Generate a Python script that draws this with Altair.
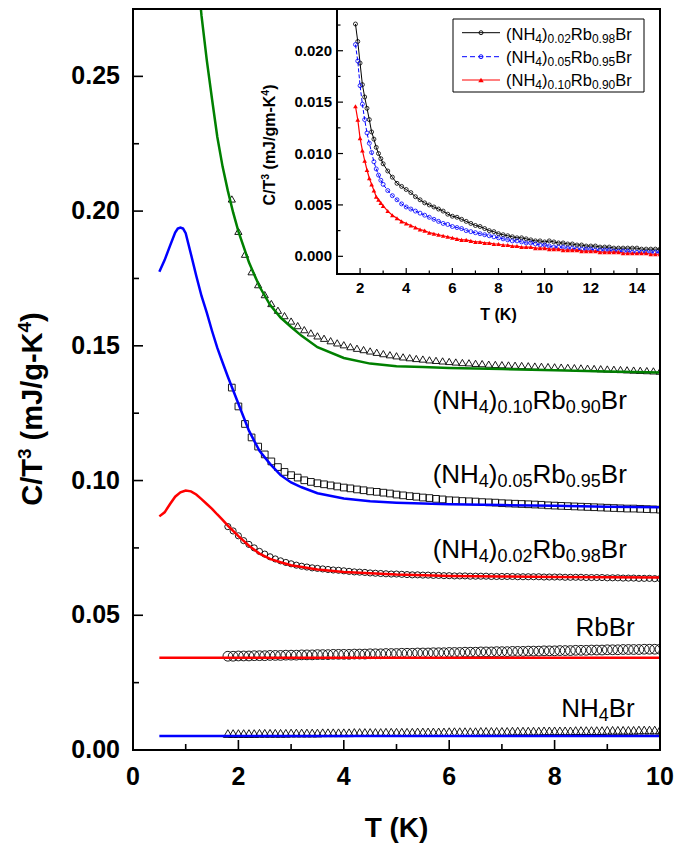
import altair as alt
import pandas as pd

# ---------------- data ----------------
# main panel: measured points
T_A = [1.8, 1.9, 2.0, 2.1, 2.2, 2.3, 2.4, 2.5, 2.6, 2.7,
       2.8, 2.9, 3.0, 3.1, 3.2, 3.3, 3.4, 3.5, 3.6, 3.7,
       3.8, 3.9, 4.0, 4.1, 4.2, 4.3, 4.4, 4.5, 4.6, 4.7,
       4.8, 4.9, 5.0, 5.1, 5.2, 5.3, 5.4, 5.5, 5.6, 5.7,
       5.8, 5.9, 6.0, 6.1, 6.2, 6.3, 6.4, 6.5, 6.6, 6.7,
       6.8, 6.9, 7.0, 7.1, 7.2, 7.3, 7.4, 7.5, 7.6, 7.7,
       7.8, 7.9, 8.0, 8.1, 8.2, 8.3, 8.4, 8.5, 8.6, 8.7,
       8.8, 8.9, 9.0, 9.1, 9.2, 9.3, 9.4, 9.5, 9.6, 9.7,
       9.8, 9.9, 10.0]

RBBR_PTS = [0.0348, 0.0348, 0.0349, 0.0349, 0.0349, 0.0350, 0.0350, 0.0350, 0.0351, 0.0351,
            0.0351, 0.0352, 0.0352, 0.0352, 0.0353, 0.0353, 0.0353, 0.0354, 0.0354, 0.0354,
            0.0355, 0.0355, 0.0355, 0.0355, 0.0356, 0.0356, 0.0356, 0.0357, 0.0357, 0.0357,
            0.0358, 0.0358, 0.0358, 0.0359, 0.0359, 0.0359, 0.0360, 0.0360, 0.0360, 0.0361,
            0.0361, 0.0361, 0.0362, 0.0362, 0.0362, 0.0363, 0.0363, 0.0363, 0.0364, 0.0364,
            0.0364, 0.0365, 0.0365, 0.0365, 0.0366, 0.0366, 0.0366, 0.0367, 0.0367, 0.0367,
            0.0368, 0.0368, 0.0368, 0.0369, 0.0369, 0.0369, 0.0370, 0.0370, 0.0370, 0.0371,
            0.0371, 0.0371, 0.0372, 0.0372, 0.0372, 0.0373, 0.0373, 0.0373, 0.0373, 0.0374,
            0.0374, 0.0374, 0.0374]

NH4BR_PTS = [0.0061, 0.0061, 0.0061, 0.0061, 0.0061, 0.0061, 0.0062, 0.0062, 0.0062, 0.0062,
             0.0062, 0.0062, 0.0063, 0.0063, 0.0063, 0.0063, 0.0063, 0.0063, 0.0064, 0.0064,
             0.0064, 0.0064, 0.0064, 0.0064, 0.0065, 0.0065, 0.0065, 0.0065, 0.0065, 0.0065,
             0.0066, 0.0066, 0.0066, 0.0066, 0.0066, 0.0066, 0.0067, 0.0067, 0.0067, 0.0067,
             0.0067, 0.0067, 0.0068, 0.0068, 0.0068, 0.0068, 0.0068, 0.0068, 0.0069, 0.0069,
             0.0069, 0.0069, 0.0069, 0.0069, 0.0070, 0.0070, 0.0070, 0.0070, 0.0070, 0.0070,
             0.0071, 0.0071, 0.0071, 0.0071, 0.0071, 0.0071, 0.0072, 0.0072, 0.0072, 0.0072,
             0.0072, 0.0072, 0.0073, 0.0073, 0.0073, 0.0073, 0.0073, 0.0073, 0.0074, 0.0074,
             0.0074, 0.0074, 0.0074]

X002_PTS = [0.0829, 0.0813, 0.0795, 0.0777, 0.0763, 0.0750, 0.0737, 0.0727, 0.0717, 0.0709,
            0.0702, 0.0696, 0.0691, 0.0686, 0.0682, 0.0679, 0.0676, 0.0674, 0.0672, 0.0670,
            0.0668, 0.0667, 0.0665, 0.0663, 0.0661, 0.0660, 0.0659, 0.0657, 0.0656, 0.0655,
            0.0654, 0.0653, 0.0653, 0.0652, 0.0651, 0.0650, 0.0650, 0.0649, 0.0649, 0.0648,
            0.0648, 0.0647, 0.0647, 0.0646, 0.0646, 0.0646, 0.0645, 0.0645, 0.0645, 0.0645,
            0.0644, 0.0644, 0.0644, 0.0644, 0.0644, 0.0643, 0.0643, 0.0643, 0.0643, 0.0643,
            0.0642, 0.0642, 0.0642, 0.0642, 0.0641, 0.0641, 0.0641, 0.0641, 0.0640, 0.0640,
            0.0640, 0.0640, 0.0639, 0.0639, 0.0639, 0.0638, 0.0638, 0.0638, 0.0637, 0.0637,
            0.0637, 0.0636, 0.0636]

T_B = [1.875, 2.0, 2.125, 2.25, 2.375, 2.5, 2.625, 2.75, 2.875, 3.0,
       3.125, 3.25, 3.375, 3.5, 3.625, 3.75, 3.875, 4.0,
       4.125, 4.25, 4.375, 4.5, 4.625, 4.75, 4.875, 5.0,
       5.125, 5.25, 5.375, 5.5, 5.625, 5.75, 5.875, 6.0,
       6.125, 6.25, 6.375, 6.5, 6.625, 6.75, 6.875, 7.0,
       7.125, 7.25, 7.375, 7.5, 7.625, 7.75, 7.875, 8.0,
       8.125, 8.25, 8.375, 8.5, 8.625, 8.75, 8.875, 9.0,
       9.125, 9.25, 9.375, 9.5, 9.625, 9.75, 9.875, 10.0]

X005_PTS = [0.1345, 0.1275, 0.1210, 0.1160, 0.1126, 0.1097, 0.1071, 0.1050, 0.1032, 0.1020,
            0.1011, 0.1001, 0.0995, 0.0990, 0.0986, 0.0982, 0.0978, 0.0974,
            0.0971, 0.0967, 0.0964, 0.0960, 0.0958, 0.0955, 0.0952, 0.0948,
            0.0945, 0.0942, 0.0940, 0.0937, 0.0935, 0.0932, 0.0930, 0.0927,
            0.0926, 0.0924, 0.0923, 0.0922, 0.0920, 0.0919, 0.0918, 0.0916,
            0.0915, 0.0914, 0.0913, 0.0912, 0.0911, 0.0910, 0.0908, 0.0907,
            0.0906, 0.0905, 0.0904, 0.0903, 0.0902, 0.0901, 0.0900, 0.0899,
            0.0898, 0.0897, 0.0896, 0.0896, 0.0895, 0.0894, 0.0893, 0.0892]

X010_PTS = [0.2045, 0.1925, 0.1840, 0.1775, 0.1727, 0.1690, 0.1657, 0.1632, 0.1612, 0.1592,
            0.1575, 0.1560, 0.1548, 0.1537, 0.1528, 0.1519, 0.1511, 0.1504,
            0.1497, 0.1491, 0.1486, 0.1481, 0.1476, 0.1471, 0.1467, 0.1463,
            0.1459, 0.1456, 0.1453, 0.1451, 0.1448, 0.1446, 0.1444, 0.1442,
            0.1440, 0.1438, 0.1437, 0.1435, 0.1434, 0.1432, 0.1431, 0.1430,
            0.1429, 0.1428, 0.1427, 0.1426, 0.1425, 0.1424, 0.1423, 0.1422,
            0.1421, 0.1420, 0.1419, 0.1418, 0.1417, 0.1416, 0.1415, 0.1414,
            0.1413, 0.1412, 0.1411, 0.1410, 0.1409, 0.1408, 0.1407, 0.1406]

# main panel: fitted curves
FIT_FLAT_T = [0.5, 10.0]
FIT_RBBR_C = [0.0342, 0.0342]
FIT_NH4BR_C = [0.0052, 0.0052]

FIT002_T = [0.5, 0.6, 0.7, 0.8, 0.9, 1.0, 1.1, 1.2, 1.3, 1.4, 1.5, 1.6, 1.7, 1.8, 1.9,
            2.0, 2.1, 2.2, 2.4, 2.6, 2.8, 3.0, 3.5, 4.0, 5.0, 6.0, 7.0, 8.0, 9.0, 10.0]
FIT002_C = [0.0867, 0.0882, 0.0912, 0.0940, 0.0956, 0.0963, 0.0960, 0.0948, 0.0931, 0.0913,
            0.0895, 0.0874, 0.0854, 0.0833, 0.0813, 0.0794, 0.0776, 0.0758, 0.0729, 0.0709,
            0.0697, 0.0686, 0.0670, 0.0661, 0.0651, 0.0646, 0.0644, 0.0642, 0.0641, 0.0640]

FIT005_T = [0.5, 0.6, 0.7, 0.8, 0.85, 0.9, 0.95, 1.0, 1.1, 1.2, 1.3, 1.4, 1.5, 1.6, 1.7,
            1.8, 1.9, 2.0, 2.1, 2.2, 2.4, 2.6, 2.8, 3.0, 3.2, 3.5, 4.0, 4.5, 5.0, 5.5,
            6.0, 7.0, 8.0, 9.0, 10.0]
FIT005_C = [0.1775, 0.1818, 0.1870, 0.1920, 0.1935, 0.1939, 0.1935, 0.1918, 0.1840, 0.1760,
            0.1685, 0.1623, 0.1555, 0.1492, 0.1438, 0.1385, 0.1335, 0.1285, 0.1235, 0.1185,
            0.1110, 0.1062, 0.1020, 0.0993, 0.0975, 0.0953, 0.0933, 0.0923, 0.0918, 0.0915,
            0.0912, 0.0909, 0.0906, 0.0903, 0.0901]

FIT010_T = [1.25, 1.3, 1.4, 1.5, 1.6, 1.7, 1.8, 1.9, 2.0, 2.2, 2.4, 2.6, 2.8, 3.0, 3.2,
            3.5, 4.0, 4.5, 5.0, 5.5, 6.0, 7.0, 8.0, 9.0, 10.0]
FIT010_C = [0.2830, 0.2725, 0.2560, 0.2415, 0.2275, 0.2165, 0.2075, 0.1995, 0.1925, 0.1810,
            0.1720, 0.1652, 0.1605, 0.1570, 0.1537, 0.1495, 0.1455, 0.1434, 0.1424, 0.1421,
            0.1418, 0.1414, 0.1409, 0.1405, 0.1401]

# inset
T_IN = [1.8, 1.9, 2.0, 2.1, 2.2, 2.3, 2.4, 2.5, 2.6, 2.7, 2.8, 2.9, 3.0,
        3.2, 3.4, 3.6, 3.8, 4.0, 4.2, 4.4, 4.6, 4.8, 5.0,
        5.2, 5.4, 5.6, 5.8, 6.0, 6.2, 6.4, 6.6, 6.8, 7.0,
        7.2, 7.4, 7.6, 7.8, 8.0, 8.2, 8.4, 8.6, 8.8, 9.0,
        9.2, 9.4, 9.6, 9.8, 10.0, 10.2, 10.4, 10.6, 10.8, 11.0,
        11.2, 11.4, 11.6, 11.8, 12.0, 12.2, 12.4, 12.6, 12.8, 13.0,
        13.2, 13.4, 13.6, 13.8, 14.0, 14.2, 14.4, 14.6, 14.8, 15.0]
IN002 = [0.0226, 0.0209, 0.0188, 0.0167, 0.0155, 0.0144, 0.0133, 0.0121, 0.0114, 0.0106, 0.0100, 0.0095, 0.0090,
         0.0083, 0.0077, 0.0071, 0.0068, 0.0065, 0.0062, 0.0058, 0.0055, 0.0052, 0.0050,
         0.0048, 0.0046, 0.0044, 0.0041, 0.0039, 0.0038, 0.0036, 0.0034, 0.0032, 0.0030,
         0.0029, 0.0027, 0.0025, 0.0024, 0.0022, 0.0021, 0.0020, 0.0019, 0.0018, 0.0018,
         0.0017, 0.0016, 0.0015, 0.0015, 0.0014, 0.0015, 0.0014, 0.0013, 0.0013, 0.0012,
         0.0012, 0.0011, 0.0011, 0.0010, 0.0010, 0.0010, 0.0009, 0.0009, 0.0009, 0.0008,
         0.0008, 0.0008, 0.0008, 0.0008, 0.0008, 0.0007, 0.0007, 0.0007, 0.0007, 0.0007]
IN005 = [0.0206, 0.0190, 0.0166, 0.0148, 0.0133, 0.0120, 0.0110, 0.0101, 0.0092, 0.0085, 0.0079, 0.0074, 0.0070,
         0.0064, 0.0059, 0.0055, 0.0051, 0.0048, 0.0046, 0.0044, 0.0042, 0.0040, 0.0038,
         0.0036, 0.0034, 0.0032, 0.0031, 0.0029, 0.0028, 0.0027, 0.0025, 0.0024, 0.0023,
         0.0022, 0.0021, 0.0020, 0.0019, 0.0018, 0.0017, 0.0016, 0.0015, 0.0015, 0.0014,
         0.0013, 0.0013, 0.0012, 0.0011, 0.0011, 0.0010, 0.0009, 0.0009, 0.0009, 0.0008,
         0.0008, 0.0007, 0.0007, 0.0007, 0.0007, 0.0006, 0.0006, 0.0006, 0.0006, 0.0005,
         0.0005, 0.0005, 0.0005, 0.0004, 0.0004, 0.0004, 0.0004, 0.0004, 0.0004, 0.0004]
IN010 = [0.0146, 0.0133, 0.0115, 0.0103, 0.0093, 0.0084, 0.0076, 0.0070, 0.0064, 0.0058, 0.0055, 0.0052, 0.0049,
         0.0044, 0.0040, 0.0037, 0.0034, 0.0032, 0.0030, 0.0028, 0.0026, 0.0025, 0.0023,
         0.0022, 0.0021, 0.0020, 0.0019, 0.0018, 0.0017, 0.0016, 0.0016, 0.0015, 0.0014,
         0.0014, 0.0013, 0.0013, 0.0012, 0.0012, 0.0011, 0.0011, 0.0010, 0.0010, 0.0009,
         0.0009, 0.0009, 0.0008, 0.0008, 0.0008, 0.0007, 0.0007, 0.0007, 0.0006, 0.0006,
         0.0006, 0.0006, 0.0005, 0.0005, 0.0005, 0.0005, 0.0004, 0.0004, 0.0004, 0.0004,
         0.0004, 0.0003, 0.0003, 0.0003, 0.0003, 0.0003, 0.0003, 0.0002, 0.0002, 0.0002]

# ticks and tick labels
MAIN_X_MAJOR = [0, 2, 4, 6, 8, 10]
MAIN_X_LABELS = ["0", "2", "4", "6", "8", "10"]
MAIN_X_MINOR = [1, 3, 5, 7, 9]
MAIN_Y_MAJOR = [0.0, 0.05, 0.10, 0.15, 0.20, 0.25]
MAIN_Y_LABELS = ["0.00", "0.05", "0.10", "0.15", "0.20", "0.25"]
MAIN_Y_MINOR = [0.025, 0.075, 0.125, 0.175, 0.225]
IN_X_MAJOR = [2, 4, 6, 8, 10, 12, 14]
IN_X_LABELS = ["2", "4", "6", "8", "10", "12", "14"]
IN_X_MINOR = [3, 5, 7, 9, 11, 13]
IN_Y_MAJOR = [0.0, 0.005, 0.010, 0.015, 0.020]
IN_Y_LABELS = ["0.000", "0.005", "0.010", "0.015", "0.020"]
IN_Y_MINOR = [0.0025, 0.0075, 0.0125, 0.0175, 0.0225]

# titles and curve labels (text pieces; flag 1 = subscript/superscript)
MAIN_X_TITLE = "T (K)"
IN_X_TITLE = "T (K)"
MAIN_Y_TITLE = [("C/T", 0), ("3", 1), (" (mJ/g-K", 0), ("4", 1), (")", 0)]
IN_Y_TITLE = [("C/T", 0), ("3", 1), (" (mJ/gm-K", 0), ("4", 1), (")", 0)]
LBL_010 = [("(NH", 0), ("4", 1), (")", 0), ("0.10", 1), ("Rb", 0), ("0.90", 1), ("Br", 0)]
LBL_005 = [("(NH", 0), ("4", 1), (")", 0), ("0.05", 1), ("Rb", 0), ("0.95", 1), ("Br", 0)]
LBL_002 = [("(NH", 0), ("4", 1), (")", 0), ("0.02", 1), ("Rb", 0), ("0.98", 1), ("Br", 0)]
LBL_RBBR = [("RbBr", 0)]
LBL_NH4BR = [("NH", 0), ("4", 1), ("Br", 0)]
# label anchors: (parts, right-edge T, baseline C/T^3)
MAIN_LABELS = [(LBL_010, 9.37, 0.1266), (LBL_005, 9.37, 0.0990), (LBL_002, 9.37, 0.0713),
               (LBL_RBBR, 9.52, 0.0423), (LBL_NH4BR, 9.52, 0.0123)]

# ---------------- layout / style ----------------
W, H = 527, 741
FONT = "Liberation Sans"
IN_L, IN_R, IN_B = 204, 527, 265
X_MAIN = alt.Scale(domain=[0, 10], nice=False, zero=False)
Y_MAIN = alt.Scale(domain=[0, 0.275], nice=False, zero=False)
X_IN = alt.Scale(domain=[1, 15], range=[IN_L, IN_R], nice=False, zero=False)
Y_IN = alt.Scale(domain=[-0.00172, 0.02406], range=[IN_B, 0], nice=False, zero=False)

GREEN, BLUE, RED = "#008000", "#0000ff", "#ff0000"

# Arial / Liberation Sans advance widths (per 1000 em)
CHAR_W = {'(': 333, ')': 333, 'N': 722, 'H': 722, 'R': 722, 'b': 556, 'B': 667, 'r': 333, '.': 278}
for _d in "0123456789":
    CHAR_W[_d] = 556
CHAR_WB = {'C': 722, '/': 278, 'T': 611, ' ': 278, '(': 333, ')': 333, 'm': 889, 'J': 556,
           'g': 611, '-': 333, 'K': 722, '3': 556, '4': 556}


def tw(s, fs, bold=False):
    table = CHAR_WB if bold else CHAR_W
    return sum(table[c] for c in s) * fs / 1000.0


def mx():
    return alt.X("x:Q", scale=X_MAIN, axis=None)


def my():
    return alt.Y("y:Q", scale=Y_MAIN, axis=None)


def ix():
    return alt.X("x:Q", scale=X_IN, axis=None)


def iy():
    return alt.Y("y:Q", scale=Y_IN, axis=None)


def df(xs, ys):
    return pd.DataFrame({"x": xs, "y": ys})


ONE = pd.DataFrame({"k": [0]})


def fixed_text(txt, px, py, size, bold=True, align="center", baseline="alphabetic"):
    return alt.Chart(pd.DataFrame({"txt": [txt]})).mark_text(
        align=align, baseline=baseline, fontSize=size, font=FONT, color="black",
        fontWeight="bold" if bold else "normal").encode(
        x=alt.value(px), y=alt.value(py), text="txt:N")


def vertical_title(parts, px, pcy, big, small, sup_dy):
    """Rotated (bottom-to-top) bold title made of pieces with superscripts."""
    total = sum(tw(p, small if s else big, True) for p, s in parts)
    out = []
    off = 0.0
    for p, s in parts:
        fs = small if s else big
        lead = len(p) - len(p.lstrip(" "))
        if lead:
            off += tw(" " * lead, fs, True)
            p = p.lstrip(" ")
        out.append(alt.Chart(pd.DataFrame({"txt": [p]})).mark_text(
            align="left", baseline="alphabetic", angle=270, fontSize=fs, font=FONT,
            fontWeight="bold", color="black", dx=off, dy=-sup_dy if s else 0).encode(
            x=alt.value(px), y=alt.value(pcy + total / 2), text="txt:N"))
        off += tw(p, fs, True)
    return out


# ---------------- main panel ----------------
main = []
pt = dict(filled=False, stroke="black", strokeWidth=0.9, clip=True, opacity=1)
main.append(alt.Chart(df(T_A, RBBR_PTS)).mark_point(shape="circle", size=95, **pt).encode(x=mx(), y=my()))
main.append(alt.Chart(df(T_A, NH4BR_PTS)).mark_point(shape="triangle-up", size=80, **pt).encode(x=mx(), y=my()))
main.append(alt.Chart(df(T_A, X002_PTS)).mark_point(shape="circle", size=38, **pt).encode(x=mx(), y=my()))
main.append(alt.Chart(df(T_B, X005_PTS)).mark_point(shape="square", size=45, **pt).encode(x=mx(), y=my()))
main.append(alt.Chart(df(T_B, X010_PTS)).mark_point(shape="triangle-up", size=52, **pt).encode(x=mx(), y=my()))

ln = dict(strokeWidth=2.5, clip=True)
main.append(alt.Chart(df(FIT_FLAT_T, FIT_NH4BR_C)).mark_line(color=BLUE, **ln).encode(x=mx(), y=my()))
main.append(alt.Chart(df(FIT_FLAT_T, FIT_RBBR_C)).mark_line(color=RED, **ln).encode(x=mx(), y=my()))
main.append(alt.Chart(df(FIT002_T, FIT002_C)).mark_line(color=RED, **ln).encode(x=mx(), y=my()))
main.append(alt.Chart(df(FIT005_T, FIT005_C)).mark_line(color=BLUE, **ln).encode(x=mx(), y=my()))
main.append(alt.Chart(df(FIT010_T, FIT010_C)).mark_line(color=GREEN, **ln).encode(x=mx(), y=my()))

# inward ticks
for vals, ln_ in ((MAIN_X_MAJOR, 10), (MAIN_X_MINOR, 6)):
    main.append(alt.Chart(pd.DataFrame({"x": vals})).mark_rule(color="black", strokeWidth=1.6).encode(
        x=mx(), y=alt.value(H), y2=alt.value(H - ln_)))
for vals, ln_ in ((MAIN_Y_MAJOR, 10), (MAIN_Y_MINOR, 6)):
    main.append(alt.Chart(pd.DataFrame({"y": vals})).mark_rule(color="black", strokeWidth=1.6).encode(
        y=my(), x=alt.value(0), x2=alt.value(ln_)))

# tick labels and titles
main.append(alt.Chart(pd.DataFrame({"x": MAIN_X_MAJOR, "lab": MAIN_X_LABELS})).mark_text(
    align="center", baseline="alphabetic", fontSize=25, fontWeight="bold", font=FONT, color="black").encode(
    x=mx(), y=alt.value(H + 35), text="lab:N"))
main.append(alt.Chart(pd.DataFrame({"y": MAIN_Y_MAJOR, "lab": MAIN_Y_LABELS})).mark_text(
    align="right", baseline="middle", fontSize=25, fontWeight="bold", font=FONT, color="black").encode(
    y=my(), x=alt.value(-13), text="lab:N"))
main.append(fixed_text(MAIN_X_TITLE, W / 2, H + 87, 28))
main.extend(vertical_title(MAIN_Y_TITLE, -91, 400, 29, 19, 11))

# curve labels
BIG, SUB, SUBDY = 26, 18, 4
for parts, t_right, base in MAIN_LABELS:
    total = sum(tw(p, SUB if s else BIG) for p, s in parts)
    off = -total
    for p, s in parts:
        fs = SUB if s else BIG
        main.append(alt.Chart(pd.DataFrame({"x": [t_right], "y": [base], "txt": [p]})).mark_text(
            align="left", baseline="alphabetic", dx=off, dy=SUBDY if s else 0, fontSize=fs,
            font=FONT, color="black").encode(x=mx(), y=my(), text="txt:N"))
        off += tw(p, fs)

main_layer = alt.layer(*main)

# ---------------- inset ----------------
ins = []
ins.append(alt.Chart(ONE).mark_rect(fill="white", stroke="black", strokeWidth=2).encode(
    x=alt.value(IN_L), x2=alt.value(IN_R), y=alt.value(0), y2=alt.value(IN_B)))

ins.append(alt.Chart(df(T_IN, IN002)).mark_line(color="black", strokeWidth=1, clip=True).encode(x=ix(), y=iy()))
ins.append(alt.Chart(df(T_IN, IN002)).mark_point(shape="circle", size=16, filled=False, stroke="black",
                                                 strokeWidth=0.8, clip=True, opacity=1).encode(x=ix(), y=iy()))
ins.append(alt.Chart(df(T_IN, IN005)).mark_line(color=BLUE, strokeWidth=1, strokeDash=[4, 2], clip=True).encode(x=ix(), y=iy()))
ins.append(alt.Chart(df(T_IN, IN005)).mark_point(shape="circle", size=16, filled=False, stroke=BLUE,
                                                 strokeWidth=0.8, clip=True, opacity=1).encode(x=ix(), y=iy()))
ins.append(alt.Chart(df(T_IN, IN010)).mark_line(color=RED, strokeWidth=1.2, clip=True).encode(x=ix(), y=iy()))
ins.append(alt.Chart(df(T_IN, IN010)).mark_point(shape="triangle-up", size=22, filled=True, color=RED,
                                                 clip=True, opacity=1).encode(x=ix(), y=iy()))

for vals, ln_ in ((IN_X_MAJOR, 6), (IN_X_MINOR, 3.5)):
    ins.append(alt.Chart(pd.DataFrame({"x": vals})).mark_rule(color="black", strokeWidth=1.2).encode(
        x=ix(), y=alt.value(IN_B), y2=alt.value(IN_B - ln_)))
for vals, ln_ in ((IN_Y_MAJOR, 6), (IN_Y_MINOR, 3.5)):
    ins.append(alt.Chart(pd.DataFrame({"y": vals})).mark_rule(color="black", strokeWidth=1.2).encode(
        y=iy(), x=alt.value(IN_L), x2=alt.value(IN_L + ln_)))

ins.append(alt.Chart(pd.DataFrame({"x": IN_X_MAJOR, "lab": IN_X_LABELS})).mark_text(
    align="center", baseline="alphabetic", fontSize=15, fontWeight="bold", font=FONT, color="black").encode(
    x=ix(), y=alt.value(IN_B + 19), text="lab:N"))
ins.append(alt.Chart(pd.DataFrame({"y": IN_Y_MAJOR, "lab": IN_Y_LABELS})).mark_text(
    align="right", baseline="middle", fontSize=15, fontWeight="bold", font=FONT, color="black").encode(
    y=iy(), x=alt.value(IN_L - 5), text="lab:N"))
ins.append(fixed_text(IN_X_TITLE, (IN_L + IN_R) / 2, IN_B + 46, 16))
ins.extend(vertical_title(IN_Y_TITLE, IN_L - 62, 136, 16, 10.5, 6))

# inset legend
LG_X0, LG_X1, LG_Y0, LG_Y1 = 320, 511, 10, 83
ins.append(alt.Chart(ONE).mark_rect(fill="white", stroke="black", strokeWidth=1).encode(
    x=alt.value(LG_X0), x2=alt.value(LG_X1), y=alt.value(LG_Y0), y2=alt.value(LG_Y1)))
legend_rows = [
    (LBL_002, 23.7, 30.5, dict(color="black"), dict(shape="circle", size=16, filled=False, stroke="black", strokeWidth=0.9)),
    (LBL_005, 47.7, 54.0, dict(color=BLUE, strokeDash=[5, 3]), dict(shape="circle", size=16, filled=False, stroke=BLUE, strokeWidth=0.9)),
    (LBL_010, 71.0, 77.0, dict(color=RED), dict(shape="triangle-up", size=30, filled=True, color=RED)),
]
LBIG, LSUB, LSUBDY = 16.5, 12, 3
for parts, yline, ybase, lstyle, pstyle in legend_rows:
    ins.append(alt.Chart(ONE).mark_rule(strokeWidth=1, **lstyle).encode(
        x=alt.value(329), x2=alt.value(367), y=alt.value(yline)))
    ins.append(alt.Chart(ONE).mark_point(opacity=1, **pstyle).encode(x=alt.value(348), y=alt.value(yline)))
    off = 373.0
    for p, s in parts:
        fs = LSUB if s else LBIG
        ins.append(alt.Chart(pd.DataFrame({"txt": [p]})).mark_text(
            align="left", baseline="alphabetic", fontSize=fs, font=FONT, color="black").encode(
            x=alt.value(off), y=alt.value(ybase + (LSUBDY if s else 0)), text="txt:N"))
        off += tw(p, fs)

inset_layer = alt.layer(*ins)

frame = alt.Chart(ONE).mark_rect(fill="white", fillOpacity=0, stroke="black", strokeWidth=2).encode(
    x=alt.value(0), x2=alt.value(W), y=alt.value(0), y2=alt.value(H))

chart = alt.layer(main_layer, inset_layer, frame).resolve_scale(
    x="independent", y="independent"
).properties(
    width=W, height=H,
    autosize=alt.AutoSizeParams(type="none"),
    padding={"left": 133, "top": 9, "right": 33, "bottom": 94},
    background="white",
).configure_view(stroke=None)

chart.save("out.html", embed_options={"renderer": "svg", "actions": False})
